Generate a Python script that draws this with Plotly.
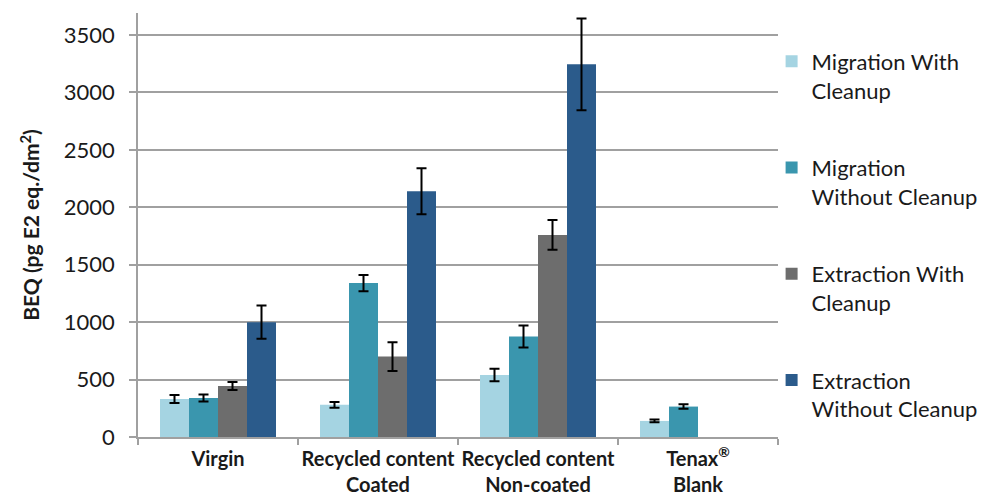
import plotly.graph_objects as go

categories = ["Virgin", "Recycled content<br>Coated", "Recycled content<br>Non-coated", "Tenax<sup>®</sup><br>Blank"]
series_names = ["Migration With<br>Cleanup", "Migration<br>Without Cleanup", "Extraction With<br>Cleanup", "Extraction<br>Without Cleanup"]
mig_with = [330, 280, 540, 140]
mig_with_err = [35, 25, 55, 12]
mig_without = [340, 1340, 875, 265]
mig_without_err = [30, 70, 95, 20]
ext_with = [445, 700, 1760, None]
ext_with_err = [35, 125, 130, None]
ext_without = [1000, 2140, 3245, None]
ext_without_err = [145, 200, 400, None]
colors = ["#A5D4E2", "#3A96AE", "#6D6D6D", "#2B5B8B"]

values = [mig_with, mig_without, ext_with, ext_without]
errors = [mig_with_err, mig_without_err, ext_with_err, ext_without_err]

FONT = "Lato"
fig = go.Figure()
for i in range(4):
    fig.add_trace(go.Bar(
        x=categories, y=values[i], name=series_names[i],
        marker=dict(color=colors[i], line=dict(width=0)),
        error_y=dict(type="data", array=errors[i], visible=True,
                     color="black", thickness=2, width=5),
        legendgroup=str(i),
    ))

fig.update_layout(
    width=983, height=498,
    margin=dict(l=138, r=205, t=13, b=61, autoexpand=False),
    paper_bgcolor="white", plot_bgcolor="white",
    barmode="group", bargap=0.275, bargroupgap=0,
    font=dict(family=FONT, color="#1a1a1a", size=22),
    showlegend=True,
    legend=dict(x=0.99, y=0.935, xanchor="left", yanchor="top",
                font=dict(family=FONT, size=22, color="#1a1a1a"),
                tracegroupgap=46, valign="top", bgcolor="rgba(0,0,0,0)",
                maxheight=490),
    xaxis=dict(showline=True, linecolor="#A0A0A0", linewidth=1.5, automargin=False,
               ticks="outside", tickson="boundaries", ticklen=6, tickcolor="#A0A0A0",
               tickwidth=1.5, tickangle=0, ticklabelstandoff=3,
               tickfont=dict(family=FONT, size=20, color="#1a1a1a", weight="bold")),
    yaxis=dict(range=[0, 3692], tickvals=[0, 500, 1000, 1500, 2000, 2500, 3000, 3500],
               showline=True, linecolor="#A0A0A0", linewidth=1.5, automargin=False,
               ticks="outside", ticklen=7, tickcolor="#A0A0A0", tickwidth=1.5,
               ticklabelstandoff=10,
               showgrid=True, gridcolor="#A0A0A0", gridwidth=1.5, zeroline=False,
               tickfont=dict(family=FONT, size=22, color="#1a1a1a"),
               title=dict(text="BEQ (pg E2 eq./dm<sup>2</sup>)", standoff=18,
                          font=dict(family=FONT, size=21, color="#1a1a1a", weight="bold"))),
)
fig.write_html("out.html")
